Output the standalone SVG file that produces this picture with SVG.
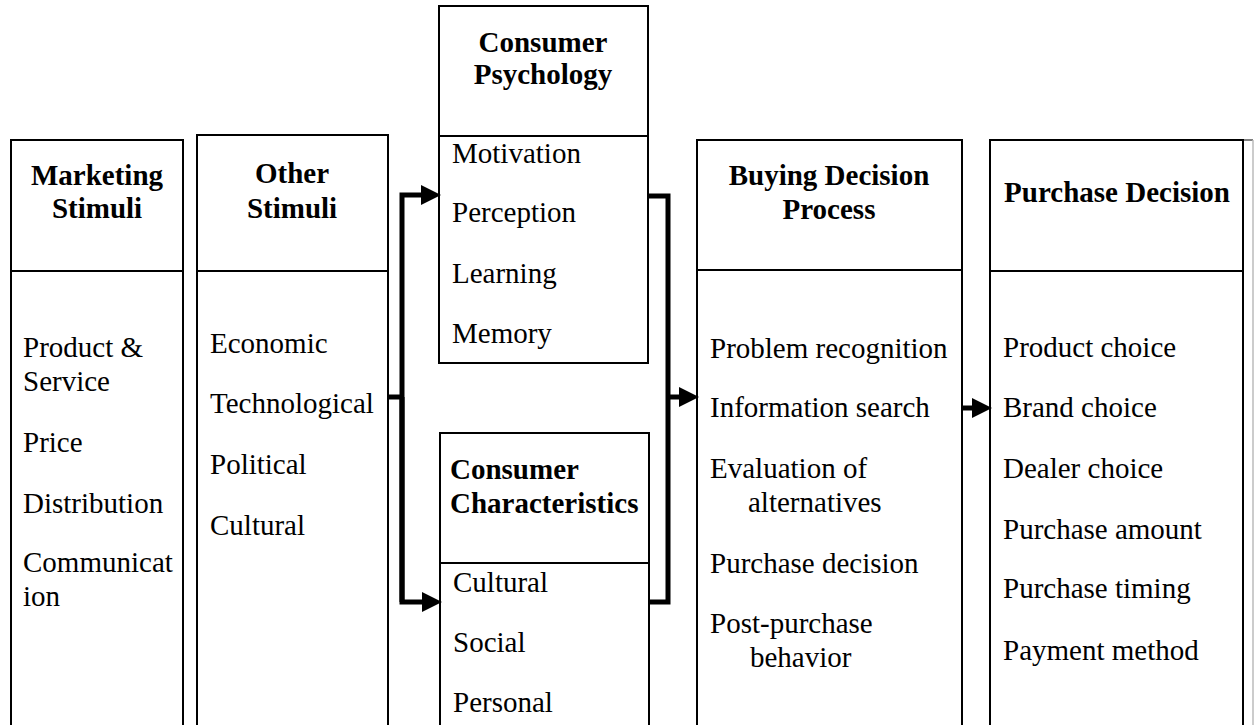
<svg xmlns="http://www.w3.org/2000/svg" width="1254" height="725" viewBox="0 0 1254 725" font-family="'Liberation Serif', 'Times New Roman', Times, serif">
<style>
.box{fill:#fff;stroke:#000;stroke-width:2}
.div{stroke:#000;stroke-width:2}
text{font-family:'Liberation Serif','Times New Roman',Times,serif;font-size:29px;fill:#000}
.h{font-weight:bold}
.c{text-anchor:middle}
.conn{fill:none;stroke:#000;stroke-width:5;stroke-linejoin:miter}
</style>
<defs>
<marker id="ah" markerWidth="4" markerHeight="4" refX="0.6" refY="1.5" orient="auto" markerUnits="strokeWidth" viewBox="0 0 3 3">
<path d="M0,0 L3,1.5 L0,3 Z" fill="#000"/>
</marker>
</defs>
<rect width="1254" height="725" fill="#fff"/>

<g id="marketing">
<rect class="box" x="11" y="140" width="172" height="600"/>
<line class="div" x1="11" y1="271" x2="183" y2="271"/>
<text class="h c" x="97" y="185">Marketing</text>
<text class="h c" x="97" y="218">Stimuli</text>
<text x="23" y="357">Product &amp;</text>
<text x="23" y="391">Service</text>
<text x="23" y="452">Price</text>
<text x="23" y="513">Distribution</text>
<text x="23" y="572">Communicat</text>
<text x="23" y="606">ion</text>
</g>

<g id="other">
<rect class="box" x="197" y="135" width="191" height="605"/>
<line class="div" x1="197" y1="271" x2="388" y2="271"/>
<text class="h c" x="292" y="183">Other</text>
<text class="h c" x="292" y="218">Stimuli</text>
<text x="210" y="353">Economic</text>
<text x="210" y="413">Technological</text>
<text x="210" y="474">Political</text>
<text x="210" y="535">Cultural</text>
</g>

<g id="psychology">
<rect class="box" x="439" y="6" width="209" height="357"/>
<line class="div" x1="439" y1="136" x2="648" y2="136"/>
<text class="h c" x="543" y="52">Consumer</text>
<text class="h c" x="543" y="84">Psychology</text>
<text x="452" y="163">Motivation</text>
<text x="452" y="222">Perception</text>
<text x="452" y="283">Learning</text>
<text x="452" y="343">Memory</text>
</g>

<g id="characteristics">
<rect class="box" x="440" y="433" width="209" height="310"/>
<line class="div" x1="440" y1="563" x2="649" y2="563"/>
<text class="h" x="450" y="479">Consumer</text>
<text class="h" x="450" y="513">Characteristics</text>
<text x="453" y="592">Cultural</text>
<text x="453" y="652">Social</text>
<text x="453" y="712">Personal</text>
</g>

<g id="buying">
<rect class="box" x="697" y="140" width="265" height="600"/>
<line class="div" x1="697" y1="270" x2="962" y2="270"/>
<text class="h c" x="829" y="185">Buying Decision</text>
<text class="h c" x="829" y="219">Process</text>
<text x="710" y="358">Problem recognition</text>
<text x="710" y="417">Information search</text>
<text x="710" y="478">Evaluation of</text>
<text x="748" y="512">alternatives</text>
<text x="710" y="573">Purchase decision</text>
<text x="710" y="633">Post-purchase</text>
<text x="750" y="667">behavior</text>
</g>

<g id="purchase">
<rect class="box" x="990" y="140" width="253" height="600"/>
<line class="div" x1="990" y1="271" x2="1243" y2="271"/>
<line x1="1243" y1="140" x2="1253" y2="140" stroke="#000" stroke-width="1"/>
<line x1="1253" y1="140" x2="1253" y2="725" stroke="#bbb" stroke-width="1.5"/>
<text class="h c" x="1117" y="202">Purchase Decision</text>
<text x="1003" y="357">Product choice</text>
<text x="1003" y="417">Brand choice</text>
<text x="1003" y="478">Dealer choice</text>
<text x="1003" y="539">Purchase amount</text>
<text x="1003" y="598">Purchase timing</text>
<text x="1003" y="660">Payment method</text>
</g>

<g id="connectors">
<polyline class="conn" points="388,397 402,397"/>
<polyline class="conn" points="402,602 402,195 425,195" marker-end="url(#ah)"/>
<polyline class="conn" points="402,397 402,602 426,602" marker-end="url(#ah)"/>
<polyline class="conn" points="648,196 668,196 668,602 649,602"/>
<polyline class="conn" points="668,397 683,397" marker-end="url(#ah)"/>
<polyline class="conn" points="962,408 976,408" marker-end="url(#ah)"/>
</g>
</svg>
